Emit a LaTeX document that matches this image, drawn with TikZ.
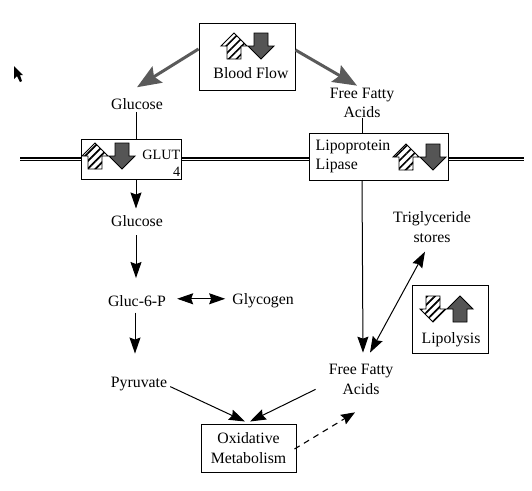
\documentclass[tikz,border=0pt]{standalone}
\usepackage{xcolor}
\usepackage{fontspec}
\setmainfont{Liberation Serif}
\usepackage{tikz}
\usetikzlibrary{arrows.meta, positioning, patterns.meta}
\definecolor{fluxgray}{RGB}{90, 90, 90}
\definecolor{darkfill}{RGB}{85, 85, 85}

\tikzset{
    hatchup/.pic={\draw[black, line width=0.9pt, pattern={Lines[angle=45, distance=5.5pt, line width=1.7pt]}]
        (0,-13) -- (13,0) -- (7,0) -- (7,13) -- (-7,13) -- (-7,0) -- (-13,0) -- cycle;},
    hatchdown/.pic={\draw[black, line width=0.9pt, pattern={Lines[angle=45, distance=5.5pt, line width=1.7pt]}]
        (0,13) -- (13,0) -- (7,0) -- (7,-13) -- (-7,-13) -- (-7,0) -- (-13,0) -- cycle;},
    darkup/.pic={\draw[black, line width=0.9pt, fill=darkfill]
        (0,-13) -- (13,0) -- (7,0) -- (7,13) -- (-7,13) -- (-7,0) -- (-13,0) -- cycle;},
    darkdown/.pic={\draw[black, line width=0.9pt, fill=darkfill]
        (0,13) -- (13,0) -- (7,0) -- (7,-13) -- (-7,-13) -- (-7,0) -- (-13,0) -- cycle;}
}

\begin{document}
\begin{tikzpicture}[
    x=1pt, y=-1pt,
    font=\fontsize{15.8}{19.8}\selectfont,
    txt/.style={inner sep=0pt, align=center},
    box/.style={rectangle, draw=black, line width=1pt, fill=white, inner sep=0pt, align=center},
    membrane/.style={double, line width=2pt, double distance=0.8pt},
    arrow/.style={line width=1pt, -{Stealth[length=16pt, width=11pt, inset=2pt]}},
    twoway/.style={line width=1pt, {Stealth[length=16pt, width=11pt, inset=2pt]}-{Stealth[length=16pt, width=11pt, inset=2pt]}},
    link/.style={line width=0.8pt},
    fluxarrow/.style={fluxgray, line width=3pt, -{Stealth[length=24pt, width=19pt, inset=4pt]}},
    dasharrow/.style={line width=1.1pt, dash pattern=on 6pt off 5pt, -{Stealth[length=14pt, width=11pt, inset=2pt]}}
]
\path[use as bounding box, fill=white] (0,0) rectangle (532,490);

% boxes
\node[box, minimum width=96pt, minimum height=67pt] (flow) at (247,56.5) {};
\node[box, minimum width=100pt, minimum height=40pt] (glut) at (131,159) {};
\node[box, minimum width=139pt, minimum height=47pt] (lipase) at (378.5,156.5) {};
\node[box, minimum width=76pt, minimum height=68pt] (lipolysis) at (450,319) {};
\node[box, minimum width=95pt, minimum height=48pt] (oxid) at (248.5,448) {Oxidative\\Metabolism};

% text in the boxes
\node[txt] (flowname) at (251,73) {Blood Flow};
\node[txt, font=\fontsize{14.2}{17}\selectfont, anchor=east] (glutname) at ([xshift=-1pt, yshift=4pt]glut.east) {GLUT};
\node[txt, font=\fontsize{14.2}{17}\selectfont, anchor=east] (glutnum) at ([xshift=-1pt, yshift=-13pt]glut.east) {4};
\node[txt, align=left, anchor=west] (lipasename) at ([xshift=7pt]lipase.west) {Lipoprotein\\Lipase};
\node[txt] (lipolysisname) at (451,340) {Lipolysis};

% small arrows
\pic at (234,46) {hatchup};
\pic at (261,46) {darkdown};
\pic at (95,156) {hatchup};
\pic at (122,156) {darkdown};
\pic at (406,157) {hatchup};
\pic at (433,157) {darkdown};
\pic at (433,309) {hatchdown};
\pic at (460,309) {darkup};

% metabolites
\node[txt] (glucA) at (137,104) {Glucose};
\node[txt, below=36pt of glut, xshift=6pt] (glucB) {Glucose};
\node[txt, below=68pt of glucB] (g6p) {Gluc-6-P};
\node[txt, right=66pt of g6p] (glycogen) {Glycogen};
\node[txt, below=70pt of g6p, xshift=2pt] (pyruvate) {Pyruvate};
\node[txt] (ffaA) at (362,103) {Free Fatty\\Acids};
\node[txt] (ffaB) at (361,379) {Free Fatty\\Acids};
\node[txt] (trig) at (432,227) {Triglyceride\\stores};

% membrane
\coordinate (memL) at (20,159);
\coordinate (memR) at (524,159);
\draw[membrane] (memL) -- (glut.west |- memL);
\draw[membrane] (glut.east |- memL) -- (lipase.west |- memL);
\draw[membrane] (lipase.east |- memL) -- (memR);

% connectors
\draw[fluxarrow] ([yshift=7.5pt]flow.west) -- ([yshift=11pt]glucA.north);
\draw[fluxarrow] ([yshift=6.5pt]flow.east) -- ([yshift=2pt, xshift=-5pt]ffaA.north);
\draw[link] ([xshift=-1pt, yshift=-2pt]glucA.south) -- ([xshift=-1pt]glucA.south |- glut.north);
\draw[link] (ffaA.south) -- (ffaA.south |- lipase.north);
\draw[arrow] ([xshift=-1pt]glucB.north |- glut.south) -- ([xshift=-1pt, yshift=7pt]glucB.north);
\draw[arrow] ([xshift=-1pt, yshift=-8pt]glucB.south) -- ([xshift=-1pt, yshift=17pt]g6p.north);
\draw[twoway] ([xshift=11pt, yshift=2pt]g6p.east) -- ([xshift=-7pt, yshift=2pt]glycogen.west);
\draw[arrow] ([xshift=-2pt, yshift=-6pt]g6p.south) -- ([xshift=-4pt, yshift=23pt]pyruvate.north);
\draw[arrow] ([xshift=3pt, yshift=-3pt]pyruvate.east) -- ([xshift=-3.5pt, yshift=2pt]oxid.north);
\draw[arrow] ([xshift=-13pt, yshift=5pt]ffaB.south west) -- ([xshift=1.5pt, yshift=2pt]oxid.north);
\draw[arrow] (ffaA.south |- lipase.south) -- ([xshift=2pt, yshift=11pt]ffaB.north);
\draw[twoway] ([xshift=-7pt, yshift=-9pt]trig.south) -- ([xshift=9pt, yshift=11pt]ffaB.north);
\draw[dasharrow] ([xshift=-2pt, yshift=-1pt]oxid.east) -- ([xshift=-6pt, yshift=-18pt]ffaB.south);

% cursor
\fill[black] (14,66) -- (14,79) -- (17,76) -- (20,82) -- (22,81) -- (20,75) -- (23,75) -- cycle;
\end{tikzpicture}
\end{document}
